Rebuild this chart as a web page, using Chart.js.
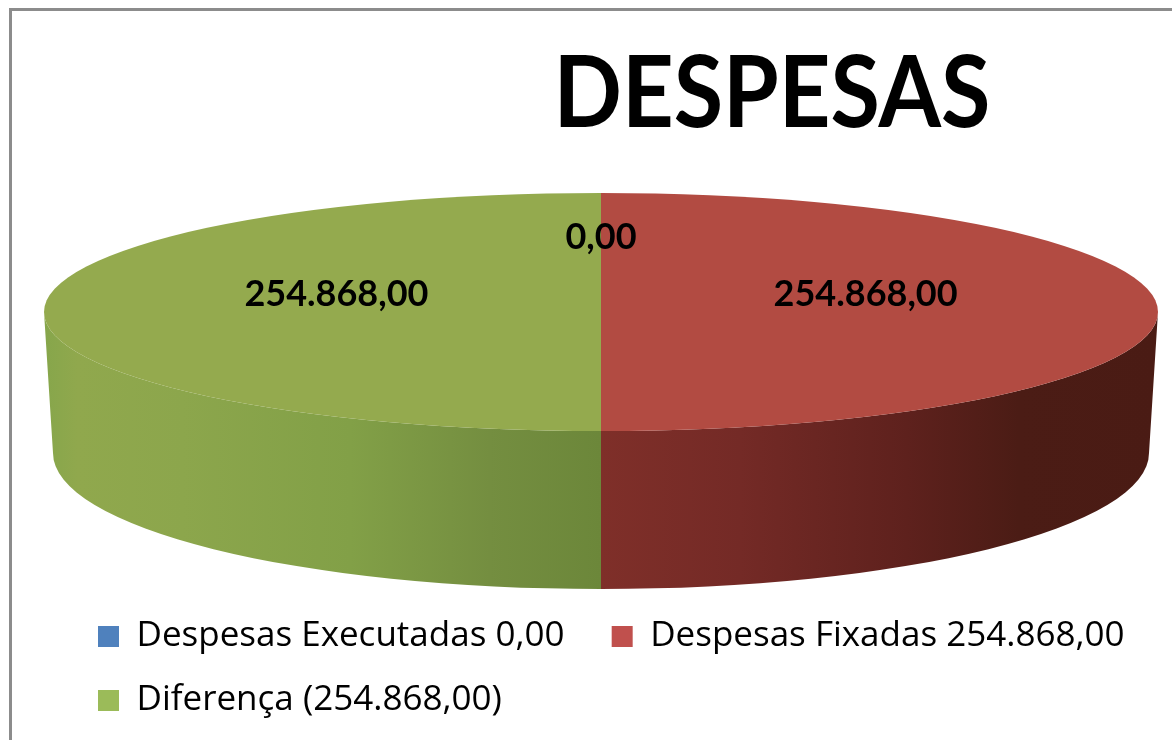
<!DOCTYPE html>
<html>
<head>
<meta charset="utf-8">
<script src="https://cdn.jsdelivr.net/npm/chart.js@4/dist/chart.umd.min.js"></script>
<style>
  html, body { margin: 0; padding: 0; background: #fff; }
  #wrap { position: relative; width: 1172px; height: 740px; }
</style>
</head>
<body>
<div id="wrap"><canvas id="chart"></canvas></div>
<script>
// ─── data ─────────────────────────────────────────────
const chartTitle = 'DESPESAS';
const categories = ['Despesas Executadas 0,00', 'Despesas Fixadas 254.868,00', 'Diferença (254.868,00)'];
const values     = [0, 254868, -254868];

// ─── styles ───────────────────────────────────────────
const topColors    = ['#4F81BD', '#B24B42', '#94AA4E'];
const legendColors = ['#4F81BD', '#C0504D', '#9BBB59'];
// side wall shading, left → right inside each slice's visible front part
const sideStops = [
  [[0, '#4a6f9c'], [1, '#3a5a80']],
  [[0, '#7f2f29'], [0.25, '#742a26'], [0.55, '#5e211d'], [0.75, '#4b1c15'], [1, '#4a1b14']],
  [[0, '#86a64b'], [0.06, '#90a84d'], [0.25, '#8ca64c'], [0.55, '#82a047'], [0.8, '#748e40'], [1, '#6c873a']]
];

// pt-BR number format
const fmt = v => {
  const [i, d] = Math.abs(v).toFixed(2).split('.');
  return i.replace(/\B(?=(\d{3})+(?!\d))/g, '.') + ',' + d;
};

// projection of the flat pie onto a tilted disc
const view = {
  cx: 601, cy: 312, rx: 557, ry: 119,      // top face
  bx: 601, by: 453, brx: 548, bry: 136     // bottom rim
};

const pie3d = {
  id: 'pie3d',
  beforeDraw(chart) {
    const ctx = chart.ctx;
    ctx.save();
    ctx.strokeStyle = '#8c8c8c';
    ctx.lineWidth = 3;
    ctx.strokeRect(10.5, 9.5, 1400, 1000);
    ctx.restore();
  },
  beforeDatasetsDraw(chart) {
    const ctx = chart.ctx;
    const arcs = chart.getDatasetMeta(0).data;
    // side walls (only the front half, 0..PI, is visible)
    arcs.forEach((arc, i) => {
      const a1 = Math.max(arc.startAngle, 0);
      const a2 = Math.min(arc.endAngle, Math.PI);
      if (a2 <= a1) return;
      const xs = [a1, a2].map(a => view.cx + view.rx * Math.cos(a));
      const g = ctx.createLinearGradient(Math.min(...xs), 0, Math.max(...xs), 0);
      sideStops[i].forEach(([p, c]) => g.addColorStop(p, c));
      ctx.save();
      ctx.beginPath();
      ctx.ellipse(view.cx, view.cy, view.rx, view.ry, 0, a1, a2);
      ctx.ellipse(view.bx, view.by, view.brx, view.bry, 0, a2, a1, true);
      ctx.closePath();
      ctx.fillStyle = g;
      ctx.fill();
      ctx.restore();
    });
    // top faces: the library's own arcs, squashed into the ellipse
    arcs.forEach(arc => {
      ctx.save();
      ctx.translate(view.cx, view.cy);
      ctx.scale(view.rx / arc.outerRadius, view.ry / arc.outerRadius);
      ctx.translate(-arc.x, -arc.y);
      arc.draw(ctx);
      ctx.restore();
    });
    return false;
  },
  afterDraw(chart) {
    const ctx = chart.ctx;
    const arcs = chart.getDatasetMeta(0).data;
    ctx.save();
    ctx.fillStyle = '#000';
    ctx.textAlign = 'center';
    ctx.textBaseline = 'middle';
    ctx.font = 'bold 36px Lato';
    arcs.forEach((arc, i) => {
      const mid = (arc.startAngle + arc.endAngle) / 2;
      const x = view.cx + 0.475 * view.rx * Math.cos(mid);
      const y = view.cy + 0.475 * view.ry * Math.sin(mid) - 18;
      ctx.fillText(fmt(values[i]), x, y);
    });
    // title, a little condensed like the original
    ctx.textBaseline = 'alphabetic';
    ctx.font = 'bold 100px Lato';
    ctx.translate(772, 127);
    ctx.scale(0.9, 1);
    ctx.fillText(chartTitle, 0, 0);
    ctx.restore();
  }
};

new Chart(document.getElementById('chart'), {
  type: 'pie',
  data: {
    labels: categories,
    datasets: [{
      data: values.map(v => Math.abs(v)),
      backgroundColor: topColors,
      borderWidth: 0
    }]
  },
  options: {
    responsive: true,
    maintainAspectRatio: false,
    animation: false,
    events: [],
    layout: { padding: { left: 69, right: 0, top: 20, bottom: 12 } },
    plugins: {
      title: { display: false },
      tooltip: { enabled: false },
      legend: {
        position: 'bottom',
        align: 'start',
        labels: {
          boxWidth: 21,
          boxHeight: 21,
          padding: 29,
          color: '#000',
          font: { family: 'Open Sans', size: 35 },
          generateLabels: () => categories.map((c, i) => ({
            text: i === 0 ? c + '  ' : c,
            fillStyle: legendColors[i],
            strokeStyle: legendColors[i],
            lineWidth: 0,
            hidden: false,
            index: i
          }))
        }
      }
    }
  },
  plugins: [pie3d]
});
</script>
</body>
</html>
